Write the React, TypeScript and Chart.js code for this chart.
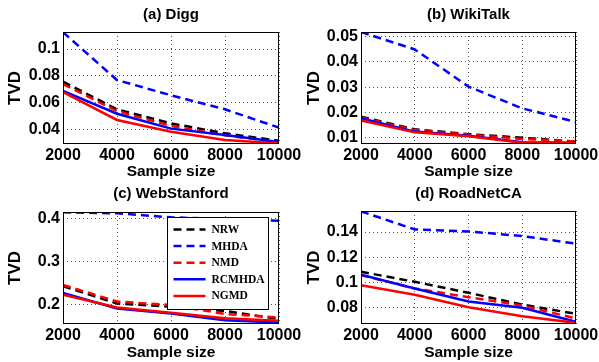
import React, { useEffect, useRef } from 'react';
import { Chart, registerables } from 'chart.js';
Chart.register(...registerables);

// ---- data ----
const sampleSizes = [2000, 4000, 6000, 8000, 10000];
const xTicks = [2000, 4000, 6000, 8000, 10000];
const seriesNames = ['NRW', 'MHDA', 'NMD', 'RCMHDA', 'NGMD'];

const diggNRW = [0.0758, 0.0553, 0.0449, 0.0375, 0.032];
const diggMHDA = [0.1125, 0.077, 0.0657, 0.0553, 0.0417];
const diggNMD = [0.074, 0.054, 0.043, 0.036, 0.031];
const diggRCMHDA = [0.069, 0.052, 0.041, 0.0363, 0.031];
const diggNGMD = [0.068, 0.0474, 0.0387, 0.0326, 0.03];
const diggYTicks = [0.04, 0.06, 0.08, 0.1];

const wikiNRW = [0.0183, 0.0133, 0.0114, 0.01, 0.0084];
const wikiMHDA = [0.0518, 0.0449, 0.0302, 0.0216, 0.0162];
const wikiNMD = [0.018, 0.013, 0.0112, 0.0095, 0.0085];
const wikiRCMHDA = [0.0177, 0.0124, 0.0108, 0.0082, 0.008];
const wikiNGMD = [0.0168, 0.0121, 0.0106, 0.008, 0.0078];
const wikiYTicks = [0.01, 0.02, 0.03, 0.04, 0.05];

const webNRW = [0.242, 0.2015, 0.194, 0.184, 0.165];
const webMHDA = [0.4148, 0.4125, 0.403, 0.399, 0.3953];
const webNMD = [0.245, 0.206, 0.198, 0.177, 0.169];
const webRCMHDA = [0.226, 0.19, 0.178, 0.1625, 0.157];
const webNGMD = [0.222, 0.192, 0.18, 0.167, 0.161];
const webYTicks = [0.2, 0.3, 0.4];

const roadNRW = [0.1083, 0.1003, 0.0915, 0.0821, 0.0747];
const roadMHDA = [0.1565, 0.1421, 0.1405, 0.1368, 0.1307];
const roadNMD = [0.1056, 0.095, 0.088, 0.0813, 0.071];
const roadRCMHDA = [0.106, 0.095, 0.0845, 0.0795, 0.0683];
const roadNGMD = [0.0976, 0.09, 0.08, 0.0728, 0.0675];
const roadYTicks = [0.08, 0.1, 0.12, 0.14];

// ---- styles ----
const seriesColors = ['#000000', '#0000ff', '#ff0000', '#0000ff', '#ff0000'];
const seriesDashed = [true, true, true, false, false];
const SANS = '"Liberation Sans", Arial, Helvetica, sans-serif';
const SERIF = '"Liberation Serif", "Times New Roman", serif';

const framePlugin = {
  id: 'frame',
  afterDatasetsDraw(chart: any) {
    const { ctx, chartArea: a } = chart;
    ctx.save();
    ctx.strokeStyle = '#000';
    ctx.lineWidth = 1;
    ctx.setLineDash([]);
    ctx.strokeRect(Math.round(a.left) + 0.5, Math.round(a.top) + 0.5, Math.round(a.right - a.left) - 1, Math.round(a.bottom - a.top) - 1);
    ctx.restore();
  },
};

const boxLegendPlugin = {
  id: 'boxLegend',
  afterDraw(chart: any) {
    const { ctx, chartArea: a } = chart;
    const bx = Math.round(a.right - 112) + 0.5;
    const by = Math.round(a.top + 5) + 0.5;
    const bw = 101;
    const bh = 92;
    ctx.save();
    ctx.fillStyle = '#fff';
    ctx.fillRect(bx, by, bw, bh);
    ctx.strokeStyle = '#000';
    ctx.lineWidth = 1;
    ctx.setLineDash([]);
    ctx.strokeRect(bx, by, bw, bh);
    ctx.font = 'bold 11.5px ' + SERIF;
    ctx.textBaseline = 'middle';
    ctx.textAlign = 'left';
    chart.data.datasets.forEach((ds: any, i: number) => {
      const y = by + 12 + i * 16.6;
      ctx.strokeStyle = ds.borderColor;
      ctx.lineWidth = 2.5;
      ctx.setLineDash(ds.borderDash || []);
      ctx.beginPath();
      ctx.moveTo(bx + 6, y);
      ctx.lineTo(bx + 38, y);
      ctx.stroke();
      ctx.fillStyle = '#000';
      ctx.fillText(ds.label, bx + 44, y + 0.5);
    });
    ctx.restore();
  },
};

type PanelCfg = {
  title: string;
  series: number[][];
  yTicks: number[];
  yMin: number;
  yMax: number;
  x: number;
  y: number;
  w: number;
  h: number;
  yAxisW: number;
  padRight: number;
  titleTop: number;
  titleBottom: number;
  xAxisH: number;
  legend?: boolean;
};

const panels: PanelCfg[] = [
  { title: '(a) Digg', series: [diggNRW, diggMHDA, diggNMD, diggRCMHDA, diggNGMD], yTicks: diggYTicks, yMin: 0.0296, yMax: 0.1126,
    x: 0, y: 0, w: 301, h: 181, yAxisW: 63, padRight: 22, titleTop: 6, titleBottom: 8, xAxisH: 37 },
  { title: '(b) WikiTalk', series: [wikiNRW, wikiMHDA, wikiNMD, wikiRCMHDA, wikiNGMD], yTicks: wikiYTicks, yMin: 0.0075, yMax: 0.0518,
    x: 299, y: 0, w: 300, h: 181, yAxisW: 62, padRight: 23, titleTop: 6, titleBottom: 8, xAxisH: 37 },
  { title: '(c) WebStanford', series: [webNRW, webMHDA, webNMD, webRCMHDA, webNGMD], yTicks: webYTicks, yMin: 0.1535, yMax: 0.4155,
    x: 0, y: 181, w: 301, h: 181, yAxisW: 63, padRight: 22, titleTop: 4.3, titleBottom: 8.7, xAxisH: 38, legend: true },
  { title: '(d) RoadNetCA', series: [roadNRW, roadMHDA, roadNMD, roadRCMHDA, roadNGMD], yTicks: roadYTicks, yMin: 0.0666, yMax: 0.1568,
    x: 299, y: 181, w: 300, h: 181, yAxisW: 62, padRight: 23, titleTop: 4.3, titleBottom: 7.7, xAxisH: 38 },
];

function buildConfig(p: PanelCfg): any {
  return {
    type: 'line',
    data: {
      datasets: p.series.map((vals, i) => ({
        label: seriesNames[i],
        data: sampleSizes.map((x, j) => ({ x, y: vals[j] })),
        borderColor: seriesColors[i],
        borderDash: seriesDashed[i] ? [8, 5] : [],
        borderWidth: 2.5,
        pointRadius: 0,
        fill: false,
        tension: 0,
        order: 4 - i,
      })),
    },
    options: {
      responsive: false,
      animation: false,
      devicePixelRatio: 1,
      layout: { padding: { left: 0, right: p.padRight, top: 0, bottom: 0 } },
      plugins: {
        legend: { display: false },
        tooltip: { enabled: false },
        title: {
          display: true,
          fullSize: false,
          text: p.title,
          color: '#000',
          font: { family: SANS, size: 15, weight: 'bold', lineHeight: 1.2 },
          padding: { top: p.titleTop, bottom: p.titleBottom },
        },
      },
      scales: {
        x: {
          type: 'linear',
          min: 2000,
          max: 10000,
          afterBuildTicks: (s: any) => { s.ticks = xTicks.map((v) => ({ value: v })); },
          afterFit: (s: any) => { s.height = p.xAxisH; s.paddingLeft = 0; s.paddingRight = 0; },
          ticks: {
            color: '#000',
            font: { family: SANS, size: 16, weight: 'bold' },
            padding: 2,
            maxRotation: 0,
            autoSkip: false,
            callback: (v: any) => String(v),
          },
          grid: { color: '#555', drawTicks: false, lineWidth: 1 },
          border: { display: false, dash: [1, 3] },
          title: {
            display: true,
            text: 'Sample size',
            color: '#000',
            font: { family: SANS, size: 15.5, weight: 'bold', lineHeight: 1.2 },
            padding: { top: 0, bottom: 0 },
          },
        },
        y: {
          type: 'linear',
          min: p.yMin,
          max: p.yMax,
          afterBuildTicks: (s: any) => { s.ticks = p.yTicks.map((v) => ({ value: v })); },
          afterFit: (s: any) => { s.width = p.yAxisW; s.paddingTop = 0; s.paddingBottom = 0; },
          ticks: {
            color: '#000',
            font: { family: SANS, size: 16, weight: 'bold' },
            padding: 3,
            autoSkip: false,
            callback: (v: any) => String(+Number(v).toFixed(4)),
          },
          grid: { color: '#555', drawTicks: false, lineWidth: 1 },
          border: { display: false, dash: [1, 3] },
          title: {
            display: true,
            text: 'TVD',
            color: '#000',
            font: { family: SANS, size: 17, weight: 'bold', lineHeight: 1.2 },
            padding: { top: 5, bottom: 0 },
          },
        },
      },
    },
    plugins: p.legend ? [framePlugin, boxLegendPlugin] : [framePlugin],
  };
}

function Panel({ p }: { p: PanelCfg }) {
  const ref = useRef<HTMLCanvasElement>(null);
  useEffect(() => {
    const chart = new Chart(ref.current as HTMLCanvasElement, buildConfig(p));
    return () => chart.destroy();
  }, [p]);
  return (
    <canvas
      ref={ref}
      width={p.w}
      height={p.h}
      style={{ position: 'absolute', left: p.x, top: p.y, width: p.w, height: p.h }}
    />
  );
}

export default function App() {
  return (
    <div style={{ position: 'absolute', left: 0, top: 0, width: 599, height: 362, background: '#fff', overflow: 'hidden' }}>
      {panels.map((p) => (
        <Panel key={p.title} p={p} />
      ))}
    </div>
  );
}
